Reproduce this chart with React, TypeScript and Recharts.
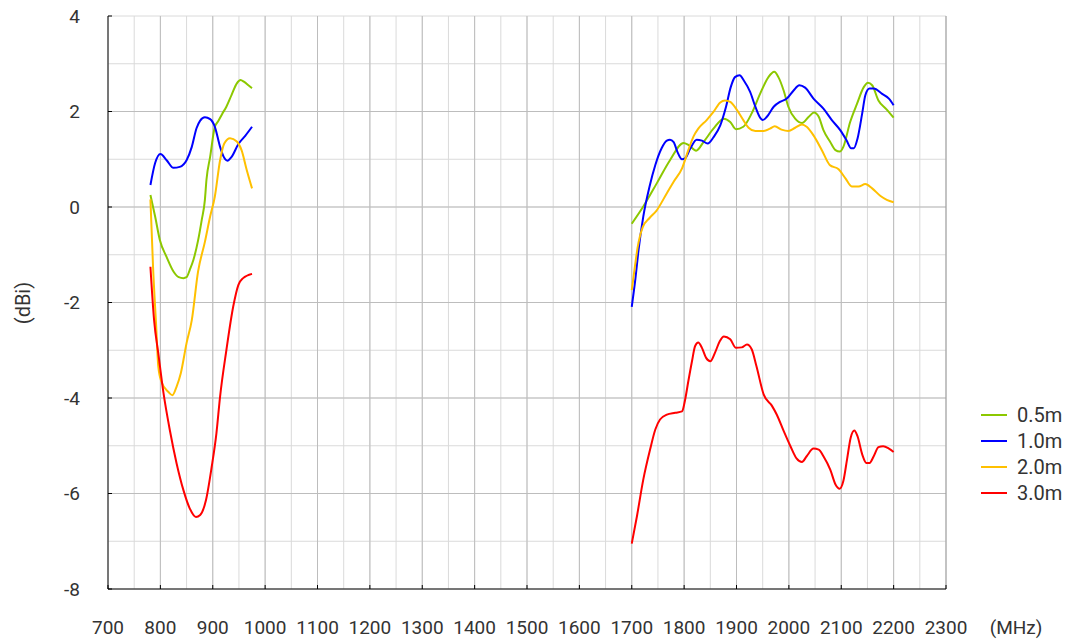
import React from 'react'
import { LineChart, Line, XAxis, YAxis, CartesianGrid, ReferenceLine } from 'recharts'

// frequency ticks (MHz), grid every 50, labels every 100
const X_TICKS = [
  700, 750, 800, 850, 900, 950, 1000, 1050, 1100, 1150, 1200, 1250, 1300, 1350, 1400, 1450,
  1500, 1550, 1600, 1650, 1700, 1750, 1800, 1850, 1900, 1950, 2000, 2050, 2100, 2150, 2200,
  2250, 2300,
]
const X_MAJOR = [
  800, 900, 1000, 1100, 1200, 1300, 1400, 1500, 1600, 1700, 1800, 1900, 2000, 2100, 2200,
]
// gain ticks (dBi), grid every 1, labels every 2
const Y_TICKS = [-8, -7, -6, -5, -4, -3, -2, -1, 0, 1, 2, 3, 4]
const Y_MAJOR = [-6, -4, -2, 0, 2]

// [MHz, dBi], low band and high band
const green05Left = [
  [781, 0.25], [790, -0.2], [799, -0.69], [812, -1.05], [825, -1.35], [835, -1.47], [844, -1.49],
  [850, -1.47], [856, -1.32], [863, -1.11], [872, -0.7], [879, -0.27], [885, 0.15], [888, 0.57],
  [895, 1.05], [904, 1.68], [910, 1.79], [918, 1.95], [926, 2.1], [936, 2.35], [946, 2.59],
  [953, 2.66], [960, 2.62], [968, 2.55], [975, 2.49],
]
const green05Right = [
  [1700, -0.35], [1722, 0.01], [1748, 0.5], [1773, 0.98], [1799, 1.34], [1808, 1.3], [1823, 1.18],
  [1837, 1.36], [1856, 1.64], [1876, 1.85], [1888, 1.78], [1899, 1.63], [1913, 1.68], [1929, 1.96],
  [1945, 2.37], [1961, 2.72], [1972, 2.83], [1980, 2.72], [1990, 2.44], [1999, 2.1], [2012, 1.85],
  [2025, 1.76], [2038, 1.89], [2048, 1.98], [2057, 1.89], [2066, 1.61], [2079, 1.36], [2089, 1.19],
  [2097, 1.16], [2104, 1.26], [2117, 1.78], [2130, 2.16], [2143, 2.51], [2151, 2.6], [2159, 2.55],
  [2171, 2.23], [2186, 2.05], [2200, 1.87],
]

const blue10Left = [
  [781, 0.46], [790, 0.92], [800, 1.11], [812, 0.98], [825, 0.82], [837, 0.84], [850, 0.98],
  [860, 1.26], [869, 1.65], [876, 1.81], [885, 1.88], [895, 1.84], [904, 1.68], [914, 1.26],
  [921, 1.05], [928, 0.97], [936, 1.05], [949, 1.32], [962, 1.49], [975, 1.68],
]
const blue10Right = [
  [1700, -2.09], [1707, -1.5], [1713, -0.9], [1722, -0.2], [1734, 0.43], [1745, 0.88], [1757, 1.23],
  [1767, 1.39], [1773, 1.41], [1780, 1.36], [1787, 1.16], [1796, 1.0], [1802, 1.02], [1812, 1.23],
  [1824, 1.41], [1834, 1.39], [1845, 1.33], [1856, 1.46], [1869, 1.71], [1880, 2.1], [1889, 2.51],
  [1897, 2.72], [1906, 2.76], [1914, 2.65], [1926, 2.41], [1936, 2.1], [1944, 1.89], [1950, 1.82],
  [1958, 1.89], [1971, 2.1], [1983, 2.2], [1996, 2.27], [2009, 2.44], [2020, 2.55], [2031, 2.5],
  [2047, 2.27], [2066, 2.06], [2082, 1.82], [2098, 1.61], [2110, 1.4], [2119, 1.23], [2124, 1.23],
  [2131, 1.43], [2140, 1.96], [2146, 2.34], [2154, 2.48], [2162, 2.48], [2178, 2.37], [2191, 2.27],
  [2200, 2.13],
]

const orange20Left = [
  [781, 0.16], [786, -1.25], [792, -2.5], [796, -3.34], [802, -3.66], [815, -3.87], [823, -3.94],
  [831, -3.76], [839, -3.48], [850, -2.85], [860, -2.37], [872, -1.35], [885, -0.73], [895, -0.2],
  [904, 0.22], [914, 0.98], [922, 1.33], [933, 1.44], [946, 1.37], [955, 1.19], [965, 0.77],
  [975, 0.39],
]
const orange20Right = [
  [1700, -1.74], [1706, -1.25], [1711, -0.86], [1721, -0.42], [1734, -0.23], [1747, -0.08],
  [1767, 0.29], [1780, 0.53], [1796, 0.81], [1808, 1.19], [1818, 1.48], [1827, 1.64], [1843, 1.82],
  [1856, 1.99], [1869, 2.19], [1878, 2.23], [1888, 2.2], [1901, 2.03], [1913, 1.82], [1923, 1.66],
  [1936, 1.59], [1952, 1.59], [1964, 1.64], [1973, 1.69], [1986, 1.62], [1999, 1.59], [2012, 1.66],
  [2025, 1.73], [2034, 1.68], [2047, 1.5], [2063, 1.19], [2078, 0.88], [2095, 0.79], [2108, 0.6],
  [2120, 0.43], [2133, 0.43], [2146, 0.48], [2159, 0.39], [2175, 0.23], [2187, 0.15], [2200, 0.1],
]

const red30Left = [
  [781, -1.25], [788, -2.37], [796, -3.06], [806, -3.9], [818, -4.67], [831, -5.37], [844, -5.93],
  [856, -6.31], [868, -6.49], [876, -6.45], [887, -6.14], [898, -5.44], [907, -4.74], [914, -3.97],
  [926, -3.0], [939, -2.09], [949, -1.63], [958, -1.49], [975, -1.4],
]
const red30Right = [
  [1700, -7.05], [1710, -6.47], [1722, -5.71], [1735, -5.08], [1745, -4.66], [1754, -4.45],
  [1767, -4.35], [1783, -4.31], [1796, -4.28], [1802, -4.03], [1808, -3.65], [1815, -3.23],
  [1821, -2.91], [1827, -2.84], [1834, -2.95], [1842, -3.16], [1850, -3.23], [1859, -3.05],
  [1868, -2.81], [1876, -2.71], [1888, -2.77], [1899, -2.95], [1910, -2.94], [1920, -2.88],
  [1929, -2.98], [1938, -3.33], [1952, -3.93], [1968, -4.17], [1977, -4.35], [1990, -4.69],
  [2003, -5.01], [2015, -5.27], [2025, -5.34], [2034, -5.22], [2047, -5.06], [2057, -5.08],
  [2066, -5.22], [2079, -5.5], [2089, -5.81], [2097, -5.9], [2104, -5.74], [2111, -5.29],
  [2118, -4.83], [2125, -4.68], [2131, -4.8], [2140, -5.18], [2148, -5.36], [2154, -5.36],
  [2162, -5.22], [2171, -5.03], [2180, -5.01], [2191, -5.06], [2200, -5.13],
]

const FONT = 'Roboto, "Noto Sans", sans-serif'
const TEXT_COLOR = '#333'

// join both bands, with a null in between so the line breaks
const band = (left: number[][], right: number[][]) => [
  ...left.map(([f, v]) => ({ f, v })),
  { f: 1300, v: null },
  ...right.map(([f, v]) => ({ f, v })),
]

const SERIES = [
  { name: '0.5m', color: '#8cc800', data: band(green05Left, green05Right) },
  { name: '1.0m', color: '#0000ff', data: band(blue10Left, blue10Right) },
  { name: '2.0m', color: '#ffc000', data: band(orange20Left, orange20Right) },
  { name: '3.0m', color: '#ff0000', data: band(red30Left, red30Right) },
]

const Y_MARGIN = 28
const X_MARGIN = 38

const YTick = ({ x, y, payload }: any) => {
  if (payload.value % 2 !== 0) return <g />
  return (
    <g>
      <line x1={x + Y_MARGIN} x2={x + Y_MARGIN + 4} y1={y} y2={y} stroke="#000" />
      <text x={x} y={y} textAnchor="end" dominantBaseline="central" fontSize={19} fontFamily={FONT} fill={TEXT_COLOR}>
        {payload.value}
      </text>
    </g>
  )
}

const XTick = ({ x, y, payload }: any) => {
  if (payload.value % 100 !== 0) return <g />
  return (
    <g>
      <line x1={x} x2={x} y1={y - X_MARGIN} y2={y - X_MARGIN - 4} stroke="#000" />
      <text x={x} y={y} textAnchor="middle" dominantBaseline="central" fontSize={19} fontFamily={FONT} fill={TEXT_COLOR}>
        {payload.value}
      </text>
    </g>
  )
}

const LegendBox = () => (
  <div style={{ position: 'absolute', left: 981, top: 402, fontFamily: FONT }}>
    {SERIES.map((s) => (
      <div key={s.name} style={{ display: 'flex', alignItems: 'center', height: 26 }}>
        <svg width={26} height={4} style={{ marginRight: 10 }}>
          <line x1={0} x2={26} y1={2} y2={2} stroke={s.color} strokeWidth={2} />
        </svg>
        <span style={{ fontSize: 20, color: TEXT_COLOR, lineHeight: '26px' }}>{s.name}</span>
      </div>
    ))}
  </div>
)

export default function App() {
  return (
    <div style={{ position: 'absolute', left: 0, top: 0, width: 1069, height: 642, background: '#fff' }}>
      <LineChart width={1069} height={642} margin={{ top: 16, right: 123, bottom: 23, left: 0 }}>
        <CartesianGrid stroke="#dadada" strokeWidth={1} />
        <CartesianGrid stroke="#bdbdbd" strokeWidth={1} verticalValues={X_MAJOR} horizontalValues={Y_MAJOR} />
        <XAxis
          type="number"
          dataKey="f"
          domain={[700, 2300]}
          ticks={X_TICKS}
          interval={0}
          height={30}
          tickSize={0}
          tickMargin={X_MARGIN}
          tick={<XTick />}
          axisLine={{ stroke: '#000' }}
          allowDuplicatedCategory={false}
        />
        <YAxis
          type="number"
          domain={[-8, 4]}
          ticks={Y_TICKS}
          interval={0}
          width={108}
          tickSize={0}
          tickMargin={Y_MARGIN}
          tick={<YTick />}
          axisLine={{ stroke: '#000' }}
        />
        <ReferenceLine x={2300} stroke="#999" strokeWidth={1} />
        {SERIES.map((s) => (
          <Line
            key={s.name}
            data={s.data}
            dataKey="v"
            name={s.name}
            type="monotone"
            stroke={s.color}
            strokeWidth={2}
            dot={false}
            activeDot={false}
            isAnimationActive={false}
          />
        ))}
      </LineChart>
      <LegendBox />
      <div
        style={{
          position: 'absolute', left: 23, top: 303, transform: 'translate(-50%, -50%) rotate(-90deg)',
          fontFamily: FONT, fontSize: 20, color: TEXT_COLOR, whiteSpace: 'nowrap', lineHeight: 1,
        }}
      >
        (dBi)
      </div>
      <div
        style={{
          position: 'absolute', left: 1016, top: 627, transform: 'translate(-50%, -50%)',
          fontFamily: FONT, fontSize: 19, color: TEXT_COLOR, whiteSpace: 'nowrap', lineHeight: 1,
        }}
      >
        (MHz)
      </div>
    </div>
  )
}
